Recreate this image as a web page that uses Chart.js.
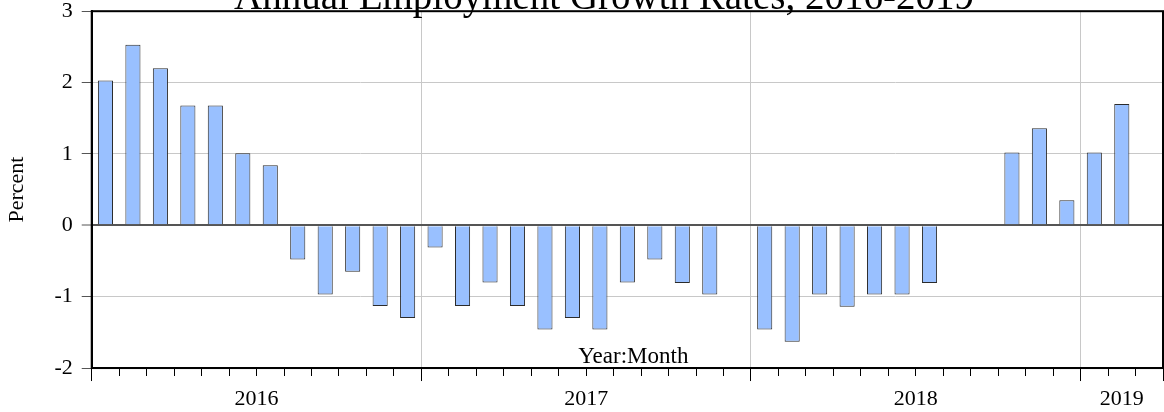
<!DOCTYPE html>
<html>
<head>
<meta charset="utf-8">
<script src="https://cdn.jsdelivr.net/npm/chart.js@4/dist/chart.umd.min.js"></script>
<style>
  html, body { margin: 0; padding: 0; background: #fff; }
  #wrap { width: 1164px; height: 412px; position: relative; }
</style>
</head>
<body>
<div id="wrap"><canvas id="chart"></canvas></div>
<script>
// years on the axis and how many months of each are in the sample
const years = ["2016", "2017", "2018", "2019"];
const monthsInYear = [12, 12, 12, 3];

// annual employment growth, percent, monthly (null = no value)
const growth2016 = [2.03, 2.53, 2.20, 1.68, 1.68, 1.01, 0.84, -0.48, -0.97, -0.65, -1.13, -1.30];
const growth2017 = [-0.31, -1.13, -0.80, -1.13, -1.46, -1.30, -1.46, -0.80, -0.48, -0.81, -0.97, null];
const growth2018 = [-1.46, -1.63, -0.97, -1.14, -0.97, -0.97, -0.81, null, null, 1.02, 1.36, 0.35];
const growth2019 = [1.02, 1.70, null];

const yTicks = [-2, -1, 0, 1, 2, 3];

const growth = [].concat(growth2016, growth2017, growth2018, growth2019);
const totalMonths = growth.length;

// year boundaries and year label centres, in month units
const yearStarts = [];
const yearCentres = [];
let acc = 0;
monthsInYear.forEach((n) => {
  yearStarts.push(acc);
  yearCentres.push(acc + n / 2);
  acc += n;
});

const serif = "'Liberation Serif', 'Times New Roman', serif";

// frame round the plot + the text drawn inside/over it
const framePlugin = {
  id: "frame",
  afterDraw(chart) {
    const { ctx, chartArea: a } = chart;
    ctx.save();
    ctx.fillStyle = "#000";
    ctx.textAlign = "center";
    ctx.textBaseline = "alphabetic";
    ctx.font = "23px " + serif;
    ctx.fillText("Year:Month", (a.left + a.right) / 2 + 6, a.bottom - 5);

    ctx.font = "39px " + serif;
    ctx.fillText("Annual Employment Growth Rates, 2016-2019", chart.width / 2 + 22, 9);

    ctx.strokeStyle = "#000";
    ctx.lineWidth = 2;
    ctx.strokeRect(a.left, a.top, a.right - a.left, a.bottom - a.top);
    ctx.restore();
  },
};

const ctx = document.getElementById("chart").getContext("2d");

new Chart(ctx, {
  type: "bar",
  data: {
    datasets: [
      {
        label: "Growth",
        data: growth.map((v, i) => ({ x: i + 0.5, y: v })),
        backgroundColor: "#99c0ff",
        borderColor: "#2b2b2b",
        borderWidth: 1,
        barPercentage: 1.1,
        categoryPercentage: 1,
      },
    ],
  },
  options: {
    responsive: true,
    maintainAspectRatio: false,
    animation: false,
    layout: { padding: { top: 0, right: 1, bottom: -6, left: 0 } },
    plugins: {
      legend: { display: false },
      tooltip: { enabled: false },
    },
    scales: {
      x: {
        type: "linear",
        min: 0,
        max: totalMonths,
        offset: false,
        afterBuildTicks: (scale) => {
          const t = [];
          for (let v = 0; v <= totalMonths; v += 0.5) t.push({ value: v });
          scale.ticks = t;
        },
        ticks: {
          autoSkip: false,
          maxRotation: 0,
          color: "#000",
          // tall line box pushes the year labels down a little
          font: { family: serif, size: 22, lineHeight: 1.68 },
          padding: 0,
          callback: (v) => {
            const k = yearCentres.indexOf(v);
            return k >= 0 ? years[k] : "";
          },
        },
        grid: {
          offset: false,
          color: (c) => (yearStarts.includes(c.tick.value) && c.tick.value > 0 ? "#c8c8c8" : "rgba(0,0,0,0)"),
          tickColor: (c) => (Number.isInteger(c.tick.value) ? "#000" : "rgba(0,0,0,0)"),
          tickBorderDash: (c) => (yearStarts.includes(c.tick.value) || c.tick.value === totalMonths ? [] : [7, 30]),
          tickWidth: 1,
          tickLength: 13,
        },
        border: { color: "#000", width: 2 },
      },
      y: {
        min: -2,
        max: 3,
        afterBuildTicks: (scale) => {
          scale.ticks = yTicks.map((v) => ({ value: v }));
        },
        ticks: {
          color: "#000",
          // small line box so the top label does not push the plot down
          font: { family: serif, size: 22, lineHeight: 0.2 },
          padding: 9,
        },
        grid: {
          color: (c) => (c.tick.value === 0 ? "#555" : "#c8c8c8"),
          lineWidth: (c) => (c.tick.value === 0 ? 2 : 1),
          tickColor: "#555",
          tickWidth: 1,
          tickLength: 10,
        },
        border: { color: "#000", width: 2 },
        title: {
          display: true,
          text: "Percent",
          color: "#000",
          font: { family: serif, size: 22 },
          padding: { top: 4, bottom: 15 },
        },
      },
    },
  },
  plugins: [framePlugin],
});
</script>
</body>
</html>
